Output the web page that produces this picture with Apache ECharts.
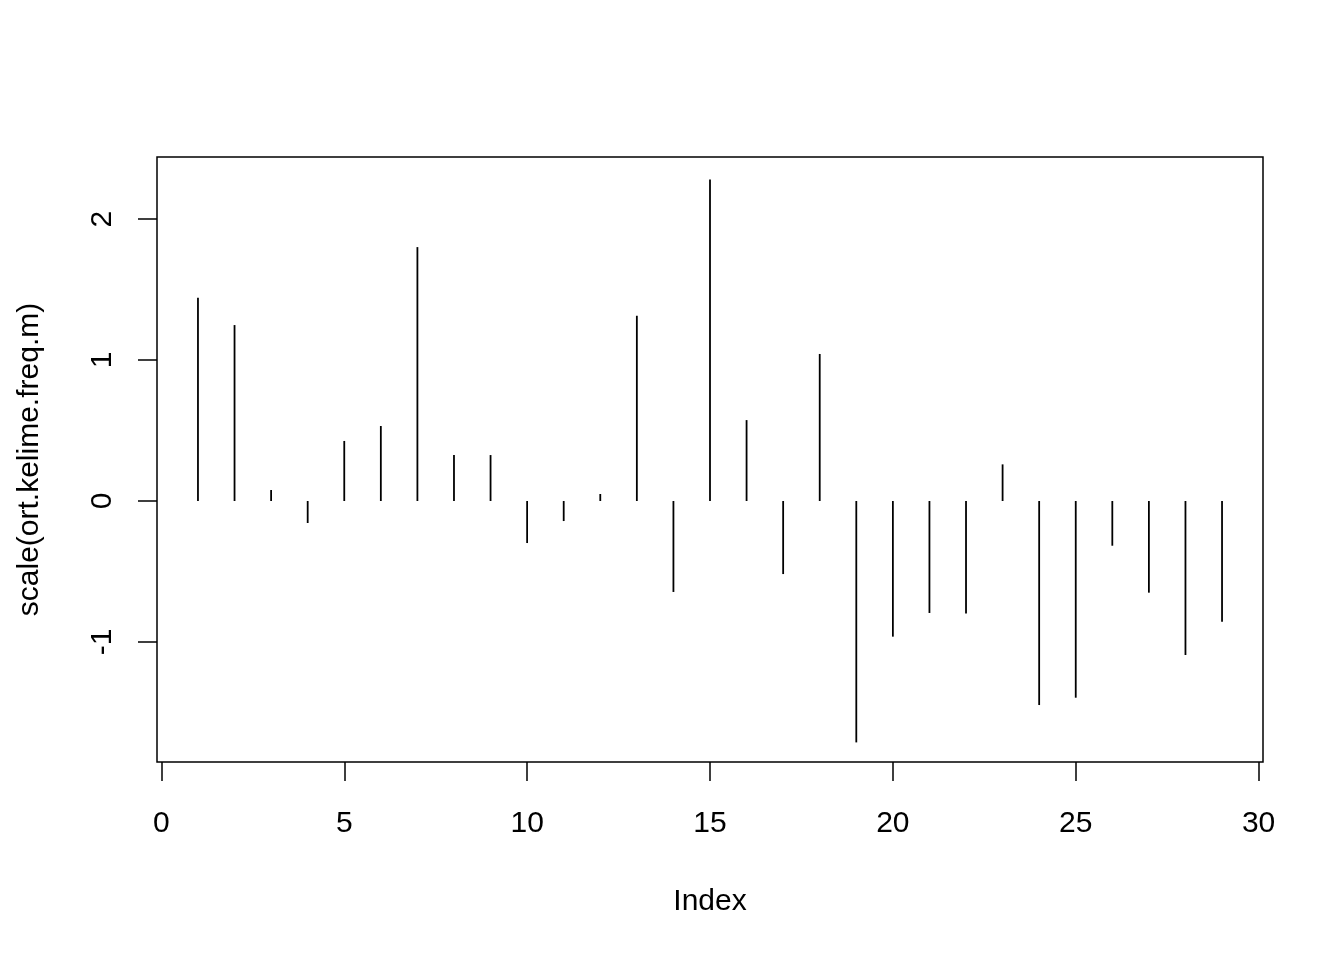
<!DOCTYPE html>
<html>
<head>
<meta charset="utf-8">
<script src="https://cdn.jsdelivr.net/npm/echarts@6/dist/echarts.min.js"></script>
<style>html,body{margin:0;padding:0;background:#fff}#c{width:1344px;height:960px}</style>
</head>
<body>
<div id="c"></div>
<script>
const indices = [1,2,3,4,5,6,7,8,9,10,11,12,13,14,15,16,17,18,19,20,21,22,23,24,25,26,27,28,29];
const values = [1.442,1.248,0.078,-0.156,0.426,0.532,1.801,0.326,0.326,-0.298,-0.142,0.05,1.314,-0.645,2.281,0.574,-0.518,1.043,-1.712,-0.962,-0.794,-0.797,0.26,-1.447,-1.395,-0.317,-0.650,-1.092,-0.856];
const xTicks = [0,5,10,15,20,25,30];
const yTicks = [-1,0,1,2];
const xTitle = 'Index';
const yTitle = 'scale(ort.kelime.freq.m)';

const font = '"Liberation Sans", Arial, Helvetica, sans-serif';
const chart = echarts.init(document.getElementById('c'), null, {renderer:'canvas'});
const data = indices.map((x,i)=>[x, values[i]]);
chart.setOption({
  backgroundColor:'#fff',
  animation:false,
  grid:{left:157, top:157, right:81, bottom:198, show:true, borderColor:'#000', borderWidth:1.5, backgroundColor:'transparent'},
  xAxis:{
    type:'value', min:-0.12, max:30.12,
    name:xTitle, nameLocation:'middle', nameGap:125,
    nameTextStyle:{fontFamily:font, fontSize:30, color:'#000'},
    axisLine:{show:false, onZero:false},
    splitLine:{show:false},
    axisTick:{show:true, length:19, inside:false, customValues:xTicks, lineStyle:{color:'#000', width:1.5}},
    axisLabel:{show:true, customValues:xTicks, margin:47, fontFamily:font, fontSize:30, color:'#000'}
  },
  yAxis:{
    type:'value', min:-1.851, max:2.44,
    name:yTitle, nameLocation:'middle', nameGap:112,
    nameTextStyle:{fontFamily:font, fontSize:30, color:'#000'},
    axisLine:{show:false, onZero:false},
    splitLine:{show:false},
    axisTick:{show:true, length:19, inside:false, customValues:yTicks, lineStyle:{color:'#000', width:1.5}},
    axisLabel:{show:true, rotate:90, customValues:yTicks, margin:39, fontFamily:font, fontSize:30, color:'#000'}
  },
  series:[{
    type:'custom',
    data:data,
    encode:{x:0, y:1},
    renderItem:function(params, api){
      const x = api.value(0), v = api.value(1);
      const p0 = api.coord([x,0]);
      const p1 = api.coord([x,v]);
      return {type:'line', shape:{x1:p0[0], y1:p0[1], x2:p1[0], y2:p1[1]}, style:{stroke:'#000', lineWidth:1.8}};
    }
  }]
});
</script>
</body>
</html>
